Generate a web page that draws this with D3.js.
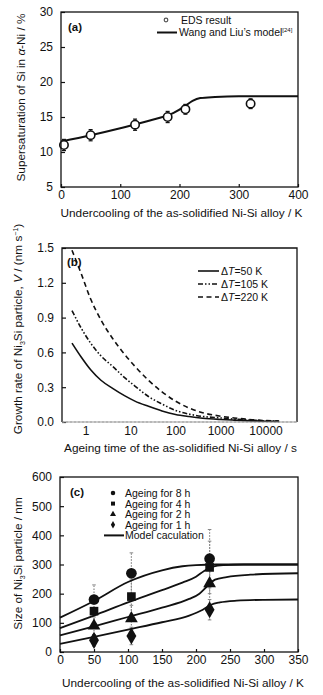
<!DOCTYPE html>
<html><head><meta charset="utf-8">
<script src="https://cdn.jsdelivr.net/npm/d3@7"></script>
<style>
html,body{margin:0;padding:0;background:#fff;}
svg{display:block;font-family:"Liberation Sans",Arial,sans-serif;}
</style></head>
<body>
<svg id="c" width="323" height="695"></svg>
<script>
// ---------- Panel (a) data ----------
const aEdsX = [5, 50, 125, 180, 210, 320];
const aEdsY = [11.0, 12.4, 13.9, 15.0, 16.1, 16.9];
const aEdsErr = [0.8, 0.8, 0.8, 0.8, 0.7, 0.7];
const aModelX = [0, 50, 100, 150, 190, 210, 222, 235, 260, 300, 400];
const aModelY = [11.5, 12.4, 13.4, 14.5, 15.6, 16.6, 17.3, 17.7, 17.85, 17.95, 17.95];
const aXTicks = [0, 100, 200, 300, 400];
const aYTicks = [5, 10, 15, 20, 25, 30];

// ---------- Panel (b) data ----------
const bTime = [0.5, 0.8, 1.3, 2.2, 4, 7.5, 12.5, 25, 50, 100, 200, 400, 1000, 2000, 5000, 10000, 20000];
const bV50  = [0.68, 0.56, 0.45, 0.36, 0.29, 0.225, 0.18, 0.135, 0.095, 0.065, 0.047, 0.033, 0.022, 0.016, 0.01, 0.007, 0.005];
const bV105 = [0.96, 0.81, 0.68, 0.57, 0.48, 0.38, 0.31, 0.22, 0.155, 0.1, 0.068, 0.048, 0.035, 0.025, 0.016, 0.01, 0.007];
const bV220 = [1.48, 1.28, 1.06, 0.88, 0.72, 0.58, 0.48, 0.36, 0.26, 0.18, 0.12, 0.08, 0.05, 0.035, 0.02, 0.012, 0.008];
const bXTicks = [1, 10, 100, 1000, 10000];
const bYTicks = [0, 0.3, 0.6, 0.9, 1.2, 1.5];
const bLegend = ["50", "105", "220"];

// ---------- Panel (c) data ----------
const cX = [50, 105, 220];
const c8h = [180, 270, 320];
const c4h = [140, 190, 290];
const c2h = [90, 115, 235];
const c1h = [40, 55, 145];
const c8hErr = [50, 70, 100];
const c4hErr = [40, 60, 90];
const c2hErr = [30, 45, 80];
const c1hErr = [20, 30, 35];
const cModelX8 = [0, 50, 100, 150, 180, 200, 230, 260, 350];
const cModel8  = [118, 175, 240, 280, 294, 298, 300, 300, 300];
const cModelX4 = [0, 50, 100, 150, 180, 200, 212, 225, 240, 270, 350];
const cModel4  = [82, 125, 170, 212, 238, 258, 278, 293, 298, 300, 300];
const cModelX2 = [0, 50, 100, 150, 190, 205, 215, 228, 245, 280, 350];
const cModel2  = [57, 88, 120, 152, 182, 200, 222, 248, 257, 265, 270];
const cModelX1 = [0, 50, 100, 150, 190, 210, 222, 235, 260, 300, 350];
const cModel1  = [28, 52, 77, 102, 125, 145, 162, 170, 176, 179, 180];
const cXTicks = [0, 50, 100, 150, 200, 250, 300, 350];
const cYTicks = [0, 100, 200, 300, 400, 500, 600];
const cLegend = ["Ageing for 8 h", "Ageing for 4 h", "Ageing for 2 h", "Ageing for 1 h", "Model caculation"];

const svg = d3.select("#c");
const INK = "#111";
const TICKFS = 12, TITLEFS = 11.8;

function frame(g, x0, x1, y0, y1) {
  g.append("rect").attr("x", x0).attr("y", y0).attr("width", x1 - x0).attr("height", y1 - y0)
    .attr("fill", "none").attr("stroke", INK).attr("stroke-width", 1.3);
}
function yAxisTicks(g, y, ticks, x0, fmt) {
  const ax = d3.axisLeft(y).tickValues(ticks).tickSizeInner(-4).tickSizeOuter(0).tickPadding(8).tickFormat(fmt);
  const a = g.append("g").attr("transform", `translate(${x0},0)`).call(ax);
  a.select(".domain").remove();
  a.selectAll("line").attr("stroke", INK).attr("stroke-width", 1.2);
  a.selectAll("text").attr("font-size", TICKFS).attr("fill", INK).attr("font-family", "Liberation Sans, Arial, sans-serif");
  return a;
}
function xAxisTicks(g, x, ticks, y0, fmt, inner, pad) {
  const ax = d3.axisBottom(x).tickValues(ticks).tickSizeInner(inner).tickSizeOuter(0).tickPadding(pad).tickFormat(fmt);
  const a = g.append("g").attr("transform", `translate(0,${y0})`).call(ax);
  a.select(".domain").remove();
  a.selectAll("line").attr("stroke", INK).attr("stroke-width", 1.2);
  a.selectAll("text").attr("font-size", TICKFS).attr("fill", INK).attr("font-family", "Liberation Sans, Arial, sans-serif");
  return a;
}

// ===================== Panel (a) =====================
{
  const g = svg.append("g");
  const L = 61, R = 298, T = 12, B = 187;
  const x = d3.scaleLinear().domain([0, 400]).range([L, R]);
  const y = d3.scaleLinear().domain([5, 30]).range([B, T]);
  yAxisTicks(g, y, aYTicks, L, d3.format("d"));
  xAxisTicks(g, x, aXTicks, B, d3.format("d"), -3, 3);
  const line = d3.line().x((d, i) => x(aModelX[i])).y((d, i) => y(aModelY[i])).curve(d3.curveMonotoneX);
  g.append("path").attr("d", line(aModelX)).attr("fill", "none").attr("stroke", INK).attr("stroke-width", 2);
  aEdsX.forEach((v, i) => {
    const cx = x(v);
    g.append("line").attr("x1", cx).attr("x2", cx).attr("y1", y(aEdsY[i] - aEdsErr[i])).attr("y2", y(aEdsY[i] + aEdsErr[i])).attr("stroke", INK).attr("stroke-width", 1.2);
    [aEdsY[i] - aEdsErr[i], aEdsY[i] + aEdsErr[i]].forEach(e => {
      g.append("line").attr("x1", cx - 2).attr("x2", cx + 2).attr("y1", y(e)).attr("y2", y(e)).attr("stroke", INK).attr("stroke-width", 1.2);
    });
    g.append("circle").attr("cx", cx).attr("cy", y(aEdsY[i])).attr("r", 4.2).attr("fill", "#fff").attr("stroke", INK).attr("stroke-width", 1.6);
  });
  frame(g, L, R, T, B);
  g.append("text").attr("x", 68).attr("y", 31).attr("font-size", 11.5).attr("font-weight", "bold").attr("fill", INK).text("(a)");
  g.append("circle").attr("cx", 166).attr("cy", 20).attr("r", 1.8).attr("fill", "#fff").attr("stroke", "#555").attr("stroke-width", 1.2);
  g.append("text").attr("x", 181).attr("y", 24).attr("font-size", 10.5).attr("fill", INK).text("EDS result");
  g.append("line").attr("x1", 157).attr("x2", 177).attr("y1", 32.5).attr("y2", 32.5).attr("stroke", INK).attr("stroke-width", 2);
  const t2 = g.append("text").attr("x", 179).attr("y", 36).attr("font-size", 10.5).attr("fill", INK);
  t2.append("tspan").text("Wang and Liu’s model");
  t2.append("tspan").attr("font-size", 6).attr("dy", -4).text("[24]");
  g.append("text").attr("x", (L + R) / 2 + 2).attr("y", 217).attr("text-anchor", "middle").attr("font-size", TITLEFS).attr("fill", INK)
    .text("Undercooling of the as-solidified Ni-Si alloy / K");
  const yt = g.append("text").attr("transform", `translate(25,${(T + B) / 2 - 2}) rotate(-90)`).attr("text-anchor", "middle").attr("font-size", TITLEFS).attr("fill", INK);
  yt.append("tspan").text("Supersaturation of Si in ");
  yt.append("tspan").attr("font-style", "italic").text("α");
  yt.append("tspan").text("-Ni / %");
}

// ===================== Panel (b) =====================
{
  const g = svg.append("g");
  const L = 62, R = 297, T = 248, B = 422;
  const x = d3.scaleLog().domain([0.3, 50000]).range([L, R]);
  const y = d3.scaleLinear().domain([0, 1.5]).range([B, T]);
  yAxisTicks(g, y, bYTicks, L, d3.format(".1f"));
  xAxisTicks(g, x, bXTicks, B, d => String(d), 0, 4);
  g.append("line").attr("x1", L).attr("x2", R).attr("y1", y(0)).attr("y2", y(0)).attr("stroke", "#aaa").attr("stroke-width", 1.2).attr("stroke-dasharray", "2,2");
  const series = [bV50, bV105, bV220];
  const dashes = [null, "5,2,1.5,2,1.5,2", "5,3.5"];
  series.forEach((s, k) => {
    const line = d3.line().x((d, i) => x(bTime[i])).y(d => y(d)).curve(d3.curveMonotoneX);
    const p = g.append("path").attr("d", line(s)).attr("fill", "none").attr("stroke", INK).attr("stroke-width", 1.6);
    if (dashes[k]) p.attr("stroke-dasharray", dashes[k]);
  });
  g.append("path").attr("d", `M${L},${B}V${T}H${R}V${B}`).attr("fill", "none").attr("stroke", INK).attr("stroke-width", 1.3);
  g.append("line").attr("x1", L).attr("x2", R).attr("y1", B).attr("y2", B).attr("stroke", "#999").attr("stroke-width", 1.2);
  g.append("text").attr("x", 67).attr("y", 266).attr("font-size", 11.5).attr("font-weight", "bold").attr("fill", INK).text("(b)");
  bLegend.forEach((lab, k) => {
    const ly = 271 + k * 13;
    const ln = g.append("line").attr("x1", 198).attr("x2", 219).attr("y1", ly).attr("y2", ly).attr("stroke", INK).attr("stroke-width", 1.6);
    if (dashes[k]) ln.attr("stroke-dasharray", dashes[k]);
    const t = g.append("text").attr("x", 221).attr("y", ly + 4).attr("font-size", 10.5).attr("fill", INK);
    t.append("tspan").text("Δ");
    t.append("tspan").attr("font-style", "italic").text("T");
    t.append("tspan").text("=" + lab + " K");
  });
  g.append("text").attr("x", (L + R) / 2 + 1).attr("y", 452).attr("text-anchor", "middle").attr("font-size", TITLEFS).attr("fill", INK)
    .text("Ageing time of the as-solidified Ni-Si alloy / s");
  const yt = g.append("text").attr("transform", `translate(22,${(T + B) / 2 - 6}) rotate(-90)`).attr("text-anchor", "middle").attr("font-size", TITLEFS).attr("fill", INK);
  yt.append("tspan").text("Growth rate of Ni");
  yt.append("tspan").attr("font-size", 7).attr("dy", 3).text("3");
  yt.append("tspan").attr("dy", -3).text("Si particle, ");
  yt.append("tspan").attr("font-style", "italic").text("V");
  yt.append("tspan").text(" / (nm s");
  yt.append("tspan").attr("font-size", 7).attr("dy", -4).text("−1");
  yt.append("tspan").attr("dy", 4).text(")");
}

// ===================== Panel (c) =====================
{
  const g = svg.append("g");
  const L = 60, R = 298, T = 477, B = 652;
  const x = d3.scaleLinear().domain([0, 350]).range([L, R]);
  const y = d3.scaleLinear().domain([0, 600]).range([B, T]);
  yAxisTicks(g, y, cYTicks, L, d3.format("d"));
  xAxisTicks(g, x, cXTicks, B, d3.format("d"), -3, 3);
  const sets = [[c8h, c8hErr], [c4h, c4hErr], [c2h, c2hErr], [c1h, c1hErr]];
  sets.forEach(([vals, errs]) => {
    cX.forEach((v, i) => {
      const cx = x(v);
      const lo = vals[i] - errs[i], hi = vals[i] + errs[i];
      g.append("line").attr("x1", cx).attr("x2", cx).attr("y1", y(lo)).attr("y2", y(hi)).attr("stroke", "#888").attr("stroke-width", 1.2).attr("stroke-dasharray", "1.5,1.5");
      [lo, hi].forEach(e => g.append("line").attr("x1", cx - 1.8).attr("x2", cx + 1.8).attr("y1", y(e)).attr("y2", y(e)).attr("stroke", "#888").attr("stroke-width", 1));
    });
  });
  const models = [[cModelX8, cModel8], [cModelX4, cModel4], [cModelX2, cModel2], [cModelX1, cModel1]];
  models.forEach(([mx, my]) => {
    const line = d3.line().x((d, i) => x(mx[i])).y((d, i) => y(my[i])).curve(d3.curveMonotoneX);
    g.append("path").attr("d", line(mx)).attr("fill", "none").attr("stroke", INK).attr("stroke-width", 1.8);
  });
  const sym = [d3.symbolCircle, d3.symbolSquare, d3.symbolTriangle, d3.symbolDiamond];
  const sizes = [90, 75, 70, 85];
  sets.forEach(([vals], k) => {
    cX.forEach((v, i) => {
      g.append("path").attr("d", d3.symbol().type(sym[k]).size(sizes[k])()).attr("transform", `translate(${x(v)},${y(vals[i])})`).attr("fill", INK);
    });
  });
  frame(g, L, R, T, B);
  g.append("text").attr("x", 70).attr("y", 496).attr("font-size", 11.5).attr("font-weight", "bold").attr("fill", INK).text("(c)");
  cLegend.forEach((lab, k) => {
    const ly = 493 + k * 10.6;
    if (k < 4) {
      g.append("path").attr("d", d3.symbol().type(sym[k]).size(16)()).attr("transform", `translate(113,${ly})`).attr("fill", INK);
    } else {
      g.append("line").attr("x1", 104).attr("x2", 124).attr("y1", ly).attr("y2", ly).attr("stroke", INK).attr("stroke-width", 2);
    }
    g.append("text").attr("x", 125).attr("y", ly + 4).attr("font-size", 10.5).attr("fill", INK).text(lab);
  });
  g.append("text").attr("x", (L + R) / 2 + 4).attr("y", 687).attr("text-anchor", "middle").attr("font-size", TITLEFS).attr("fill", INK)
    .text("Undercooling of the as-solidified Ni-Si alloy / K");
  const yt = g.append("text").attr("transform", `translate(22,${(T + B) / 2 - 1}) rotate(-90)`).attr("text-anchor", "middle").attr("font-size", TITLEFS).attr("fill", INK);
  yt.append("tspan").text("Size of Ni");
  yt.append("tspan").attr("font-size", 7).attr("dy", 3).text("3");
  yt.append("tspan").attr("dy", -3).text("Si particle / nm");
}
</script>
</body></html>
